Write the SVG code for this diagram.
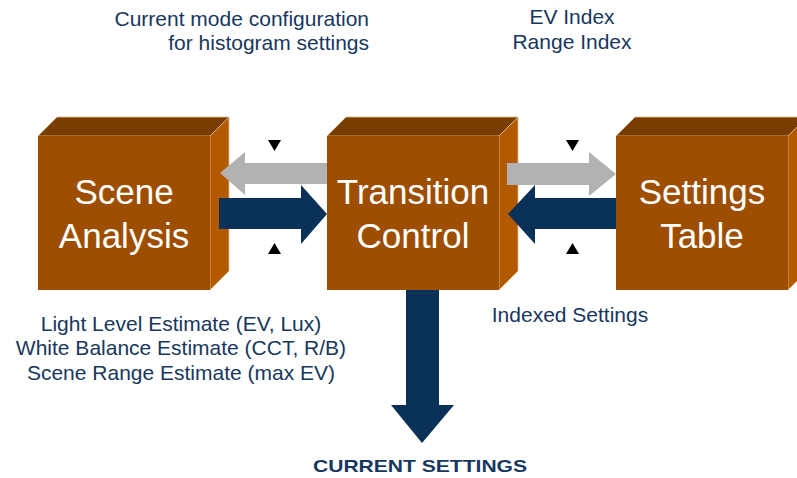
<svg xmlns="http://www.w3.org/2000/svg" width="797" height="478" viewBox="0 0 797 478">
<style>
.front{fill:#9E4E00}
.top{fill:#7A3D00;stroke:#E2BE8E;stroke-width:0.8}
.side{fill:#B35A00;stroke:#E2BE8E;stroke-width:0.8}
.box{font-family:"Liberation Sans",Arial,sans-serif;font-size:35px;fill:#FFFFFF;text-anchor:middle}
.lbl{font-family:"Liberation Sans",Arial,sans-serif;font-size:21px;fill:#17375E}
.navy{fill:#0A3157}
.gray{fill:#B2B2B2}
.tri{fill:#000000}
</style>
<rect width="797" height="478" fill="#FFFFFF"/>
<g id="scene-analysis">
<polygon class="top" points="38,136 57,117 229,117 210,136"/>
<polygon class="side" points="210,136 229,117 229,271 210,290"/>
<rect class="front" x="38" y="136" width="172" height="154"/>
<text class="box" x="124" y="204">Scene</text>
<text class="box" x="124" y="248">Analysis</text>
</g>
<g id="transition-control">
<polygon class="top" points="327,136 346,117 518,117 499,136"/>
<polygon class="side" points="499,136 518,117 518,271 499,290"/>
<rect class="front" x="327" y="136" width="172" height="154"/>
<text class="box" x="413" y="204">Transition</text>
<text class="box" x="413" y="248">Control</text>
</g>
<g id="settings-table">
<polygon class="top" points="616,136 635,117 807,117 788,136"/>
<polygon class="side" points="788,136 807,117 807,271 788,290"/>
<rect class="front" x="616" y="136" width="172" height="154"/>
<text class="box" x="702" y="204">Settings</text>
<text class="box" x="702" y="248">Table</text>
</g>
<g id="connectors">
<polygon class="gray" points="220,173 245,152 245,163 327,163 327,184 245,184 245,195"/>
<polygon class="navy" points="219,198 301,198 301,185 327,214 301,244 301,229 219,229"/>
<polygon class="gray" points="507,163 589,163 589,152 616,174 589,196 589,185 507,185"/>
<polygon class="navy" points="508,214 535,185 535,198 616,198 616,229 535,229 535,244"/>
<polygon class="navy" points="406,290 439,290 439,405 454,405 422,443 391,405 406,405"/>
<polygon class="tri" points="268,140 281,140 274.5,151"/>
<polygon class="tri" points="268,254 281,254 274.5,243"/>
<polygon class="tri" points="566,140 579,140 572.5,151"/>
<polygon class="tri" points="566,254 579,254 572.5,243"/>
</g>
<g id="labels">
<text class="lbl" x="369" y="26" text-anchor="end">Current mode configuration</text>
<text class="lbl" x="369" y="50" text-anchor="end">for histogram settings</text>
<text class="lbl" x="572" y="24" text-anchor="middle">EV Index</text>
<text class="lbl" x="572" y="49" text-anchor="middle">Range Index</text>
<text class="lbl" x="181" y="331" text-anchor="middle">Light Level Estimate (EV, Lux)</text>
<text class="lbl" x="181" y="355" text-anchor="middle">White Balance Estimate (CCT, R/B)</text>
<text class="lbl" x="181" y="380" text-anchor="middle">Scene Range Estimate (max EV)</text>
<text class="lbl" x="570" y="322" text-anchor="middle">Indexed Settings</text>
<text x="313" y="472" textLength="214" lengthAdjust="spacingAndGlyphs" style="font-family:'Liberation Sans',Arial,sans-serif;font-size:17px;font-weight:bold;fill:#17375E">CURRENT SETTINGS</text>
</g>
</svg>
